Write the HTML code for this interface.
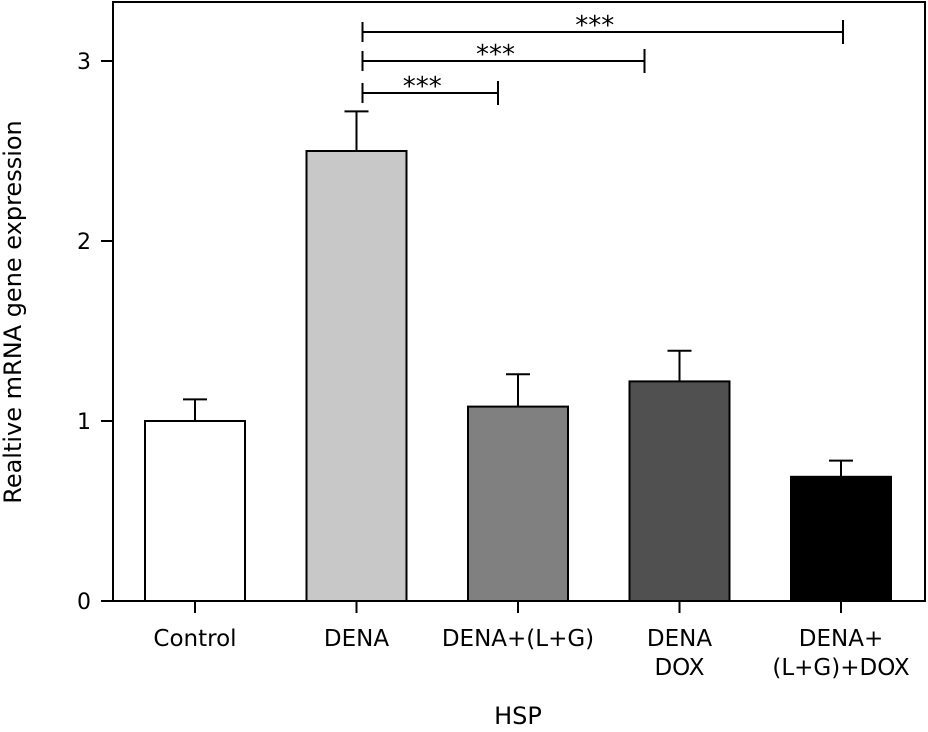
<!DOCTYPE html>
<html><head><meta charset="utf-8"><style>
body{margin:0;background:#fff}
text{font-family:"DejaVu Sans","Liberation Sans",sans-serif;fill:#000}
</style></head><body>
<svg width="928" height="727">
<rect x="113" y="2" width="812" height="599" fill="none" stroke="#000" stroke-width="2"/>
<g id="bars"></g><g id="axes"></g><g id="sig"></g>
<text x="21" y="312" font-size="24" text-anchor="middle" transform="rotate(-90 21 312)">Realtive mRNA gene expression</text>
<text x="518" y="724" font-size="24" text-anchor="middle">HSP</text>
</svg>
<script>
const categories=[["Control"],["DENA"],["DENA+(L+G)"],["DENA","DOX"],["DENA+","(L+G)+DOX"]];
const values=[1.0,2.5,1.08,1.22,0.69];
const errors=[0.12,0.22,0.18,0.17,0.09];
const fills=["#ffffff","#c8c8c8","#808080","#505050","#000000"];
const yTicks=[0,1,2,3];
const sigPairs=[[1,2],[1,3],[1,4]];
const sigLabels=["***","***","***"];
const NS="http://www.w3.org/2000/svg";
const y=v=>601-v*180;
const x=i=>195+i*161.5;
function mk(p,tag,a){const e=document.createElementNS(NS,tag);for(const k in a)e.setAttribute(k,a[k]);p.appendChild(e);return e;}
const B=document.getElementById('bars'),A=document.getElementById('axes'),S=document.getElementById('sig');
values.forEach((v,i)=>{
 const cx=x(i),top=y(v+errors[i]);
 const l=mk(B,'line',{x1:cx,x2:cx,y1:y(v),y2:top,stroke:'#000','stroke-width':2});
 
 
 const c=mk(B,'line',{x1:cx-12,x2:cx+12,y1:top,y2:top,stroke:'#000','stroke-width':2});
 
 
 const r=mk(B,'rect',{x:cx-50,y:y(v),width:100,height:601-y(v),fill:fills[i],stroke:'#000','stroke-width':2});
 
 
 const t=mk(A,'line',{x1:cx,x2:cx,y1:601,y2:613,stroke:'#000','stroke-width':2});
 
 
 categories[i].forEach((s,j)=>{const tx=mk(A,'text',{x:cx,y:646+j*29,'font-size':23,'text-anchor':'middle'});tx.textContent=s;
 
 });
});
yTicks.forEach(v=>{
 const t=mk(A,'line',{x1:101,x2:113,y1:y(v),y2:y(v),stroke:'#000','stroke-width':2});
 
 
 const tx=mk(A,'text',{x:84,y:y(v)+8,'font-size':22,'text-anchor':'middle'});tx.textContent=v;
 
 
});
const sigY=[93,61,32];
const sigEndOffset=[-20,-35,2];
sigPairs.forEach((p,k)=>{
 const x1=x(p[0])+6,x2=x(p[1])+sigEndOffset[k],yy=sigY[k];
 const l=mk(S,'line',{x1:x1,x2:x2,y1:yy,y2:yy,stroke:'#000','stroke-width':2});
 
 
 mk(S,'line',{x1:x1,x2:x1,y1:yy-10,y2:yy+10,stroke:'#000','stroke-width':2});
 mk(S,'line',{x1:x2,x2:x2,y1:yy-12,y2:yy+12,stroke:'#000','stroke-width':2});
 const tx=mk(S,'text',{x:(x1+x2)/2-8,y:yy+2,'font-size':26,'text-anchor':'middle'});tx.textContent=sigLabels[k];
 
 
});
</script>
</body></html>
